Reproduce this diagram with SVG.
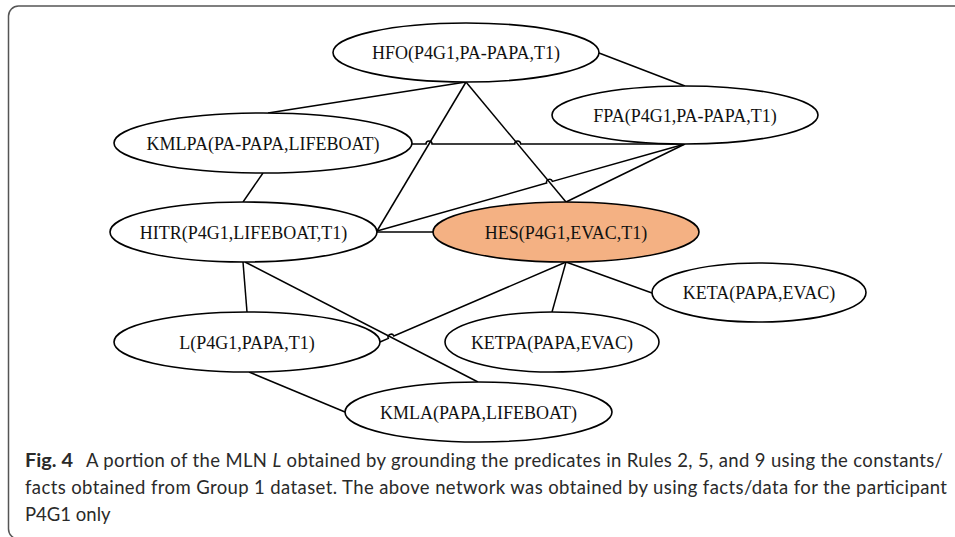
<svg xmlns="http://www.w3.org/2000/svg" width="955" height="537" viewBox="0 0 955 537">
<style>
.node ellipse{fill:#fff;stroke:#000;stroke-width:1.6}
.node text{font-family:"Liberation Serif","Times New Roman",serif;font-size:18px;fill:#111;text-anchor:middle}
#HES ellipse{fill:#F4B183}
.edges path,.edges line{fill:none;stroke:#000;stroke-width:1.5}
.cap{font-family:Lato,"Open Sans",sans-serif;font-size:18.5px;fill:#2a2a2a}
</style>
<rect x="8.5" y="6" width="970" height="533" rx="10" fill="none" stroke="#555" stroke-width="1.5"/>
<g class="edges">
<line x1="466" y1="82" x2="268" y2="113"/>
<line x1="466" y1="82" x2="377" y2="231"/>
<line x1="466" y1="82" x2="566" y2="202"/>
<line x1="599" y1="53" x2="685" y2="86"/>
<path d="M412,144 H426 A3,3 0 0 1 432,144 H514.7 A3,3 0 0 1 520.7,144 H685"/>
<line x1="263" y1="173" x2="243" y2="202"/>
<path d="M377,231 L546.66,183.08 A3,3 0 0 1 552.44,181.44 L685,144"/>
<line x1="566" y1="202" x2="685" y2="144"/>
<line x1="377" y1="232" x2="433" y2="232"/>
<line x1="243" y1="262" x2="247" y2="312"/>
<line x1="245" y1="262" x2="478" y2="382"/>
<path d="M380,342 L388.32,338.42 A3,3 0 0 1 393.84,336.04 L566,262"/>
<line x1="566" y1="262" x2="552" y2="312"/>
<line x1="566" y1="262" x2="652" y2="293"/>
<line x1="249" y1="372" x2="345" y2="412"/>
</g>
<g id="HFO" class="node"><ellipse cx="466" cy="52.5" rx="133" ry="29.5"/><text x="466" y="59">HFO(P4G1,PA-PAPA,T1)</text></g>
<g id="KMLPA" class="node"><ellipse cx="263" cy="143" rx="149" ry="30"/><text x="263" y="149.5">KMLPA(PA-PAPA,LIFEBOAT)</text></g>
<g id="FPA" class="node"><ellipse cx="685" cy="115" rx="133" ry="29"/><text x="685" y="121.5">FPA(P4G1,PA-PAPA,T1)</text></g>
<g id="HITR" class="node"><ellipse cx="243.5" cy="232" rx="133.5" ry="30"/><text x="243.5" y="238.5">HITR(P4G1,LIFEBOAT,T1)</text></g>
<g id="HES" class="node"><ellipse cx="566" cy="232" rx="133" ry="30"/><text x="566" y="238.5">HES(P4G1,EVAC,T1)</text></g>
<g id="KETA" class="node"><ellipse cx="759" cy="292.5" rx="107" ry="29.5"/><text x="759" y="299">KETA(PAPA,EVAC)</text></g>
<g id="KETPA" class="node"><ellipse cx="552" cy="342" rx="107" ry="30"/><text x="552" y="348.5">KETPA(PAPA,EVAC)</text></g>
<g id="L" class="node"><ellipse cx="247" cy="342" rx="133" ry="30"/><text x="247" y="348.5">L(P4G1,PAPA,T1)</text></g>
<g id="KMLA" class="node"><ellipse cx="478.5" cy="412" rx="133.5" ry="30"/><text x="478.5" y="418.5">KMLA(PAPA,LIFEBOAT)</text></g>
<text class="cap" x="25" y="467" font-weight="bold" textLength="48" lengthAdjust="spacingAndGlyphs">Fig. 4</text>
<text class="cap" x="86" y="467" textLength="857" lengthAdjust="spacing">A portion of the MLN <tspan font-style="italic">L</tspan> obtained by grounding the predicates in Rules 2, 5, and 9 using the constants/</text>
<text class="cap" x="25" y="494" textLength="922" lengthAdjust="spacing">facts obtained from Group 1 dataset. The above network was obtained by using facts/data for the participant</text>
<text class="cap" x="25" y="521">P4G1 only</text>
</svg>
